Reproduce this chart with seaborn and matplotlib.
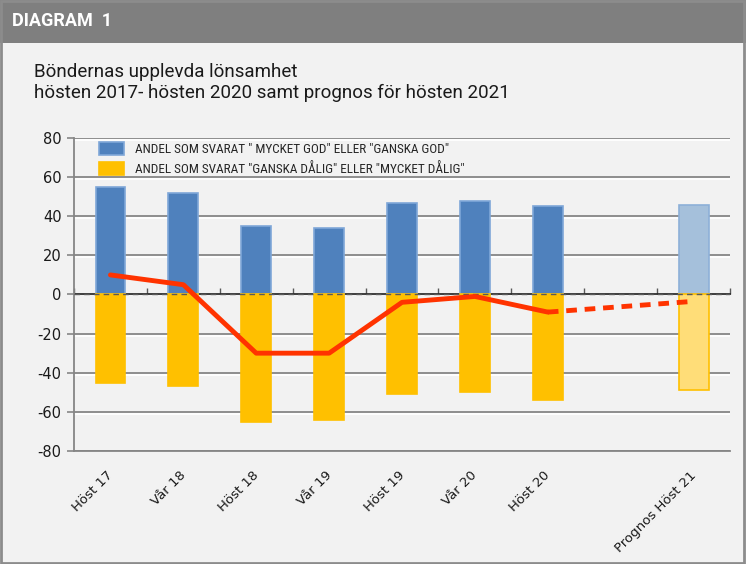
import numpy as np
import pandas as pd
import seaborn as sns
import matplotlib.pyplot as plt
import matplotlib.patheffects as pe
from matplotlib import transforms
from matplotlib.patches import Patch, Rectangle

periods = ["Höst 17", "Vår 18", "Höst 18", "Vår 19", "Höst 19", "Vår 20", "Höst 20", "Prognos Höst 21"]
andel_god = [55, 52, 35, 34, 47, 48, 45, 46]
andel_dalig = [-45, -47, -65, -64, -51, -50, -54, -49]
netto = [10, 5, -30, -30, -4, -1, -9, -3.5]
prognos = "Prognos Höst 21"
# empty slot before the forecast
order = periods[:7] + [" "] + periods[7:]

label_god = 'ANDEL SOM SVARAT " MYCKET GOD" ELLER "GANSKA GOD"'
label_dalig = 'ANDEL SOM SVARAT "GANSKA DÅLIG" ELLER "MYCKET DÅLIG"'

blue, blue_edge = "#4F81BD", "#7FA7D8"
blue_light, blue_light_edge = "#A5C0DB", "#8DB0D8"
yellow, yellow_light = "#FFC000", "#FFDD78"
red = "#FF3300"
bg = "#F2F2F2"
grid_col = "#868686"
cond = ["Roboto Condensed", "DejaVu Sans"]
robo = ["Roboto", "DejaVu Sans"]

sns.set_theme(style="white")
plt.rcParams["font.family"] = ["DejaVu Sans"]
plt.rcParams["axes.unicode_minus"] = False

fig = plt.figure(figsize=(7.46, 5.64), dpi=100, facecolor=bg)
fig.patches.append(Rectangle((0, 1 - 43 / 564), 1, 43 / 564, transform=fig.transFigure,
                             facecolor="#7F7F7F", edgecolor="none", zorder=0))
fig.patches.append(Rectangle((0.001, 0.002), 0.996, 0.996, transform=fig.transFigure,
                             fill=False, edgecolor="#8C8C8C", lw=2, zorder=5))
fig.text(0.016, 1 - 21 / 564, "DIAGRAM  1", color="white", fontsize=13, fontweight="bold",
         family=robo, va="center")
fig.text(0.045, 1 - 72 / 564, "Böndernas upplevda lönsamhet", fontsize=13.5, family=robo,
         va="center", color="#1a1a1a")
fig.text(0.045, 1 - 93 / 564, "hösten 2017- hösten 2020 samt prognos för hösten 2021", fontsize=13.5,
         family=robo, va="center", color="#1a1a1a")

ax = fig.add_axes([0.0992, 0.2004, 0.8794, 0.5549])
ax.set_facecolor(bg)

df = pd.DataFrame({"period": periods, "god": andel_god, "dalig": andel_dalig})

pal_god = {p: (blue_light if p == prognos else blue) for p in periods}
pal_dalig = {p: (yellow_light if p == prognos else yellow) for p in periods}

n0 = len(ax.patches)
sns.barplot(data=df, x="period", y="god", order=order, hue="period", palette=pal_god,
            saturation=1, width=0.41, edgecolor=blue_edge, linewidth=1.2, legend=False, ax=ax)
for p in ax.patches[n0:]:
    if order[int(round(p.get_x() + p.get_width() / 2))] == prognos:
        p.set_edgecolor(blue_light_edge)

sns.barplot(data=df, x="period", y="dalig", order=order, hue="period", palette=pal_dalig,
            saturation=1, width=0.41, edgecolor=yellow, linewidth=1.2, legend=False, ax=ax)

# dashed zero line
ax.axhline(0, color="#595959", lw=1, ls=(0, (4, 3)), zorder=3)

pos = [order.index(p) for p in periods]
sns.lineplot(x=pos[:7], y=netto[:7], color=red, lw=3.5, ax=ax, zorder=4)
sns.lineplot(x=pos[6:], y=netto[6:], color=red, lw=3.5, ax=ax, zorder=4,
             linestyle=(0, (2.2, 1.6)))

ax.set_xlim(-0.5, len(order) - 0.5)
ax.set_ylim(-80, 80)
ax.set_yticks(np.arange(-80, 81, 20))
ax.set_xlabel("")
ax.set_ylabel("")
ax.grid(axis="y", color=grid_col, lw=1.3)
for loc, gl in zip(ax.get_yticks(), ax.get_ygridlines()):
    if loc == 0:
        gl.set_visible(False)
    gl.set_path_effects([pe.SimpleLineShadow(offset=(0, -1.5), shadow_color="white", alpha=1, rho=1),
                         pe.Normal()])
ax.set_axisbelow(True)

for s in ["top", "right"]:
    ax.spines[s].set_visible(False)
for s in ["left", "bottom"]:
    ax.spines[s].set_color(grid_col)
    ax.spines[s].set_linewidth(1.3)

ax.tick_params(axis="y", length=5, width=1.2, color=grid_col, labelsize=10.5, pad=4,
               left=True, labelcolor="#1a1a1a")
ax.set_xticks(range(len(order)))
ax.set_xticklabels(order, rotation=45, ha="right", rotation_mode="anchor", fontsize=9.5,
                   color="#1a1a1a")
ax.tick_params(axis="x", length=0, pad=13)
shift = transforms.ScaledTranslation(-3 / 72, 0, fig.dpi_scale_trans)
for lab in ax.get_xticklabels():
    lab.set_transform(lab.get_transform() + shift)

# category ticks on the zero line
sec = ax.secondary_xaxis(0.5)
sec.set_xticks(np.arange(-0.5, len(order), 1))
sec.set_xticklabels([])
sec.tick_params(axis="x", direction="out", length=4, width=1, color="#595959")
sec.spines["bottom"].set_visible(False)

handles = [Patch(facecolor=blue, edgecolor=blue_edge, lw=1.2, label=label_god),
           Patch(facecolor=yellow, edgecolor=yellow, lw=1.2, label=label_dalig)]
leg = ax.legend(handles=handles, loc="upper left", bbox_to_anchor=(0.03, 1.005), frameon=False,
                handlelength=1.9, handleheight=1.15, handletextpad=0.8, labelspacing=0.45,
                prop={"family": cond, "size": 9.5}, borderaxespad=0)

fig.savefig("out.png", dpi=100, facecolor=bg)
